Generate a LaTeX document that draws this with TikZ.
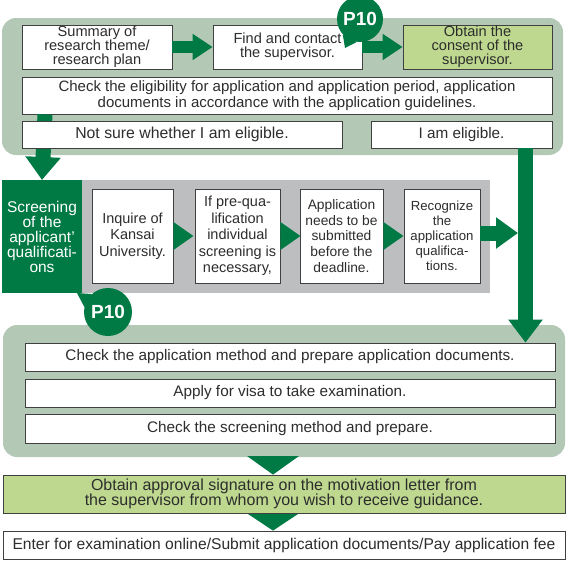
\documentclass[tikz,border=0pt]{standalone}
\usepackage{fontspec}
\setmainfont{Liberation Sans}
\usetikzlibrary{arrows.meta,calc}
\definecolor{sage}{RGB}{180,200,182}
\definecolor{dkgreen}{RGB}{0,122,69}
\definecolor{ltgreen}{RGB}{190,217,143}
\definecolor{panelgray}{RGB}{188,190,192}
\definecolor{txt}{RGB}{45,45,45}
\definecolor{bord}{RGB}{64,64,64}
\newcommand\fsz[2]{\fontsize{#1pt}{#2pt}\selectfont}
\begin{document}
\begin{tikzpicture}[x=1pt,y=-1pt,
  panel/.style={fill=sage, rounded corners=14pt, inner sep=0, draw=none},
  box/.style={draw=bord, fill=white, line width=0.8pt, inner sep=0, align=center, text=txt, font=\fsz{15.3}{15.5}},
  topbox/.style={box, font=\fsz{14.6}{13.9}, minimum height=44pt},
  gbox/.style={box, font=\fsz{14.5}{16.5}, minimum height=94pt},
  bigarrow/.style={draw=dkgreen, line width=#1},
  bub/.style={circle, fill=dkgreen, minimum size=46pt, inner sep=0, text=white, font=\bfseries\fsz{19}{19}}
]
\useasboundingbox (0,0) rectangle (572,563);
% panels
\node[panel, minimum width=561pt, minimum height=137pt] (p1) at (282.5,86.5) {};
\node[panel, minimum width=562pt, minimum height=132pt] (p3) at (284,391) {};
\node[fill=panelgray, inner sep=0, minimum width=408pt, minimum height=113pt] (gp) at (286,236.5) {};
% coordinates for shafts
\coordinate (sx) at (45,0);
\coordinate (rx) at (525.5,0);
\coordinate (rs) at (518,233);
% top row boxes
\node[topbox, minimum width=150pt] (b1) at (97,47) {Summary of\\research theme/\\research plan};
\node[topbox, minimum width=149pt] (b2) at (287.5,47) {Find and contact\\the supervisor.};
\node[topbox, minimum width=149pt, fill=ltgreen] (b3) at (477.5,47) {Obtain the\\consent of the\\supervisor.};
\node[box, font=\fsz{15}{15.7}, minimum width=530pt, minimum height=37pt] (b4) at (287,95.5) {Check the eligibility for application and application period, application\\documents in accordance with the application guidelines.};
% down arrows (drawn before boxes they pass behind)
\draw[bigarrow=15pt, -{Triangle[length=23pt,width=34pt]}] (b4.south -| sx) -- (42,180);
\node[box, font=\fsz{15.8}{16}, minimum width=320pt, minimum height=27pt] (b5) at (182,134.5) {Not sure whether I am eligible.};
\node[box, minimum width=181pt, minimum height=27pt] (b6) at (461.5,134.5) {I am eligible.};
\draw[bigarrow=12pt, -{Triangle[length=20pt,width=25pt]}] (b1.east) -- (b2.west);
\draw[bigarrow=12pt, -{Triangle[length=20pt,width=25pt]}] (b2.east) -- (b3.west);
% screening row
\node[fill=dkgreen, inner sep=0, minimum width=80pt, minimum height=113pt, align=center, text=white, font=\fsz{15.5}{15}] (scr) at (42,236.5) {Screening\\of the\\applicant'\\qualificati-\\ons};
\node[gbox, minimum width=81pt] (ga) at (132.5,236) {Inquire of\\Kansai\\University.};
\node[gbox, minimum width=85pt] (gb) at (237.5,236) {If pre-qua-\\lification\\individual\\screening is\\necessary,};
\node[gbox, minimum width=83pt, font=\fsz{13.8}{15.8}] (gc) at (341.5,236) {Application\\needs to be\\submitted\\before the\\deadline.};
\node[gbox, minimum width=76pt, font=\fsz{13.2}{15}] (gd) at (442,236) {Recognize\\the\\application\\qualifica-\\tions.};
\foreach \a/\b in {ga/gb, gb/gc, gc/gd}{
  \fill[dkgreen] ($(\a.east)+(0,-14)$) -- ($(\a.east)+(20,0)$) -- ($(\a.east)+(0,14)$) -- cycle;
}
% bottom panel boxes
\node[box, minimum width=530pt, minimum height=28pt] (c1) at (290,357) {Check the application method and prepare application documents.};
\node[box, minimum width=530pt, minimum height=28pt] (c2) at (290,393) {Apply for visa to take examination.};
\node[box, minimum width=530pt, minimum height=29pt] (c3) at (290,428.5) {Check the screening method and prepare.};
% right vertical arrow
\draw[bigarrow=15pt, -{Triangle[length=23pt,width=33pt]}] (b6.south -| rx) -- (c1.north -| rx);
\draw[bigarrow=15pt, -{Triangle[length=22pt,width=30pt]}] (gd.east |- rs) -- (rs);
% final boxes
\node[box, fill=ltgreen, font=\fsz{16}{15.4}, minimum width=562pt, minimum height=38pt] (app) at (284,494) {Obtain approval signature on the motivation letter from\\the supervisor from whom you wish to receive guidance.};
\node[box, font=\fsz{15.6}{16}, minimum width=562pt, minimum height=28pt] (ent) at (284,545) {Enter for examination online/Submit application documents/Pay application fee};
\fill[dkgreen] (247,456) -- (299,456) -- (app.north -| 273,0) -- cycle;
\fill[dkgreen] (248,514) -- (298,514) -- (ent.north -| 273,0) -- cycle;
% bubbles
\node[bub] (bub1) at (360,19) {P10};
\fill[dkgreen] (bub1.222) -- (345,48) -- (bub1.262) -- cycle;
\node[bub, minimum size=48pt] (bub2) at (108,312) {P10};
\fill[dkgreen] (bub2.132) -- (77,293) -- (bub2.168) -- cycle;
\end{tikzpicture}
\end{document}
